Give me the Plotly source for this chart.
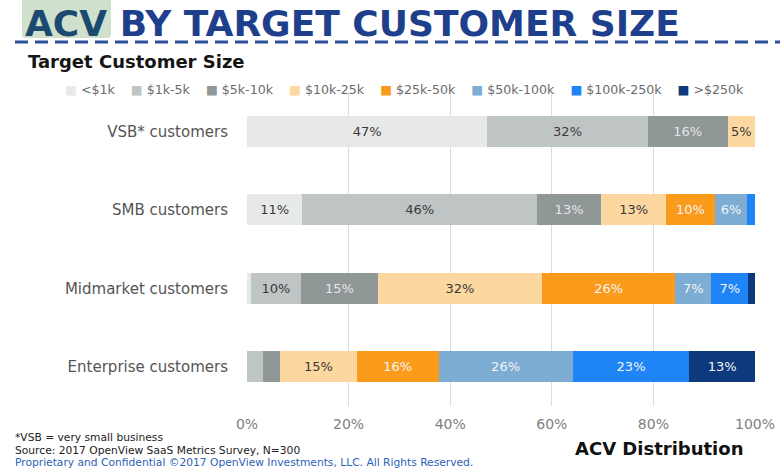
import plotly.graph_objects as go

# ---------------- data ----------------
categories = ["VSB* customers", "SMB customers", "Midmarket customers", "Enterprise customers"]
series_names = ["<$1k", "$1k-5k", "$5k-10k", "$10k-25k", "$25k-50k", "$50k-100k", "$100k-250k", ">$250k"]
# share (%) of each ACV band, one list per band, ordered like categories
lt1k = [47.3, 10.9, 0.7, 0.0]
k1_5 = [31.6, 46.2, 10.0, 3.2]
k5_10 = [15.7, 12.6, 15.0, 3.3]
k10_25 = [5.4, 12.8, 32.4, 15.1]
k25_50 = [0.0, 9.6, 26.2, 16.1]
k50_100 = [0.0, 6.4, 7.1, 26.4]
k100_250 = [0.0, 1.5, 7.3, 23.0]
gt250k = [0.0, 0.0, 1.3, 12.9]
tick_vals = [0, 20, 40, 60, 80, 100]
tick_text = ["0%", "20%", "40%", "60%", "80%", "100%"]

series_values = [lt1k, k1_5, k5_10, k10_25, k25_50, k50_100, k100_250, gt250k]
colors = ["#e7e9e9", "#bfc4c4", "#8f9797", "#fdd7a0", "#fb9b1c", "#7eadd3", "#1f85f6", "#0c3a7c"]
text_colors = ["#3a3a3a", "#3a3a3a", "#e6e6e6", "#3a3a3a", "#f4f4f4", "#f4f4f4", "#f4f4f4", "#f4f4f4"]

FONT = "DejaVu Sans"

# canvas and plot area in pixels
W, H = 780, 470
X0, X1, Y0, Y1 = 247, 755, 92, 406


def px(x):
    return x / W


def py(y):
    return 1 - y / H


fig = go.Figure()
for name, vals, col, tcol in zip(series_names, series_values, colors, text_colors):
    fig.add_trace(go.Bar(
        y=categories, x=vals, name=name, orientation="h",
        marker=dict(color=col, line=dict(width=0)),
        text=[f"{v:.0f}%" if v >= 5 else "" for v in vals],
        textposition="inside", insidetextanchor="middle", textangle=0,
        textfont=dict(family=FONT, size=13, color=tcol),
        showlegend=False, hoverinfo="skip",
    ))

annotations = []
shapes = []

# title with highlighted "ACV"
bx0, bx1, by0, by1, r = 22, 111, -6, 38, 4
shapes.append(dict(type="path", xref="paper", yref="paper",
                   path=(f"M {px(bx0 + r)},{py(by0)} L {px(bx1 - r)},{py(by0)} Q {px(bx1)},{py(by0)} {px(bx1)},{py(by0 + r)} "
                         f"L {px(bx1)},{py(by1 - r)} Q {px(bx1)},{py(by1)} {px(bx1 - r)},{py(by1)} L {px(bx0 + r)},{py(by1)} "
                         f"Q {px(bx0)},{py(by1)} {px(bx0)},{py(by1 - r)} L {px(bx0)},{py(by0 + r)} Q {px(bx0)},{py(by0)} {px(bx0 + r)},{py(by0)} Z"),
                   fillcolor="#cfe0cc", line=dict(width=0), layer="below"))
annotations.append(dict(xref="paper", yref="paper", x=px(23), y=py(23), xanchor="left", yanchor="middle",
                        text="<b><span style='color:#1b4a70'>ACV</span> BY TARGET CUSTOMER SIZE</b>",
                        font=dict(family=FONT, size=36, color="#1e3f8b"), showarrow=False))
# dashed rule
shapes.append(dict(type="line", xref="paper", yref="paper", x0=px(15), x1=px(785), y0=py(42), y1=py(42),
                   line=dict(color="#2b4f98", width=3, dash="13px,7px")))

annotations.append(dict(xref="paper", yref="paper", x=px(26), y=py(62), xanchor="left", yanchor="middle",
                        text="<b>Target Customer Size</b>", font=dict(family=FONT, size=18, color="#151515"),
                        showarrow=False))

# legend (one line of coloured squares + names)
sep = "&nbsp;" * 4
legend_text = sep.join(
    f"<span style='color:{col}'>■</span> {name.replace('<', '&lt;')}" for name, col in zip(series_names, colors)
)
annotations.append(dict(xref="paper", yref="paper", x=px(63), y=py(90), xanchor="left", yanchor="middle",
                        text=legend_text, font=dict(family=FONT, size=12.6, color="#6b6b6b"), showarrow=False))

# footer
foot = dict(xref="paper", yref="paper", xanchor="left", yanchor="middle", showarrow=False)
annotations.append(dict(foot, x=px(13), y=py(437), text="*VSB = very small business",
                        font=dict(family=FONT, size=10.7, color="#222")))
annotations.append(dict(foot, x=px(13), y=py(450), text="Source: 2017 OpenView SaaS Metrics Survey, N=300",
                        font=dict(family=FONT, size=10.7, color="#222")))
annotations.append(dict(foot, x=px(13), y=py(462),
                        text="Proprietary and Confidential ©2017 OpenView Investments, LLC. All Rights Reserved.",
                        font=dict(family=FONT, size=10.7, color="#2d62b8")))
annotations.append(dict(xref="paper", yref="paper", x=px(659), y=py(448), xanchor="center", yanchor="middle",
                        text="<b>ACV Distribution</b>", font=dict(family=FONT, size=18, color="#111"),
                        showarrow=False))

fig.update_layout(
    barmode="stack", bargap=0.6,
    width=W, height=H, margin=dict(l=0, r=0, t=0, b=0, pad=0),
    paper_bgcolor="white", plot_bgcolor="white",
    font=dict(family=FONT),
    xaxis=dict(domain=[X0 / W, X1 / W], range=[0, 100], tickvals=tick_vals, ticktext=tick_text, showgrid=True,
               gridcolor="#dcdcdc", gridwidth=1, zeroline=False, showline=False, automargin=False,
               tickfont=dict(family=FONT, size=14, color="#808080"), ticks="", ticklabelstandoff=8),
    yaxis=dict(domain=[1 - Y1 / H, 1 - Y0 / H], categoryorder="array", categoryarray=categories,
               autorange="reversed", automargin=False,
               showgrid=False, zeroline=False, showline=False, ticks="",
               tickfont=dict(family=FONT, size=15, color="#555"), ticklabelstandoff=18),
    annotations=annotations, shapes=shapes,
)

fig.write_html("out.html", config={"displayModeBar": False},
               post_script="document.body.style.margin='0';document.body.style.overflow='hidden';")
